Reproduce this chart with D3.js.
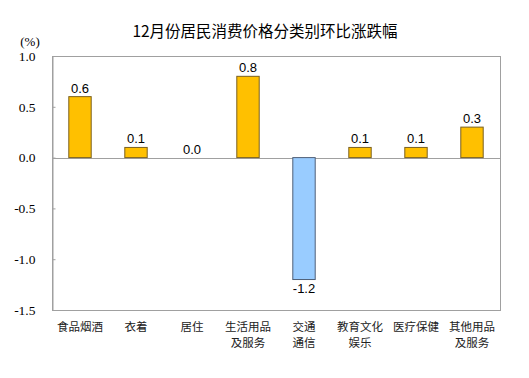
<!DOCTYPE html>
<html>
<head>
<meta charset="utf-8">
<script src="https://cdn.jsdelivr.net/npm/d3@7"></script>
<style>
  body { margin: 0; background: #fff; }
  svg { display: block; }
</style>
</head>
<body>
<script>
// 12月份居民消费价格分类别环比涨跌幅
var categories = [["食品烟酒"], ["衣着"], ["居住"], ["生活用品", "及服务"], ["交通", "通信"], ["教育文化", "娱乐"], ["医疗保健"], ["其他用品", "及服务"]];
var values = [0.6, 0.1, 0.0, 0.8, -1.2, 0.1, 0.1, 0.3];
var yTicks = [1.0, 0.5, 0.0, -0.5, -1.0, -1.5];

var width = 529, height = 378;
var plot = {left: 52, right: 500, top: 56, bottom: 310};

var svg = d3.select("body").append("svg").attr("width", width).attr("height", height);

var x = d3.scaleBand()
    .domain(d3.range(categories.length))
    .range([plot.left, plot.right])
    .paddingInner(0.6)
    .paddingOuter(0.3);

var y = d3.scaleLinear()
    .domain([-1.5, 1.0])
    .range([plot.bottom, plot.top]);

var fmt = function(d){ return d3.format(".1f")(d).replace("−", "-"); };

// title
svg.append("text")
    .attr("x", 265).attr("y", 37)
    .attr("text-anchor", "middle")
    .attr("font-family", "'Noto Sans CJK SC', sans-serif")
    .attr("font-size", 15.5)
    .attr("fill", "#000")
    .text("12月份居民消费价格分类别环比涨跌幅");

svg.append("text")
    .attr("x", 30).attr("y", 46)
    .attr("text-anchor", "middle")
    .attr("font-family", "'Liberation Serif', serif")
    .attr("font-size", 13)
    .text("(%)");

// plot box
svg.append("rect")
    .attr("x", plot.left + 0.5).attr("y", plot.top + 0.5)
    .attr("width", plot.right - plot.left).attr("height", plot.bottom - plot.top)
    .attr("fill", "none").attr("stroke", "#a0a0a0");

// y axis, ticks point inside
var yAxis = d3.axisLeft(y).tickValues(yTicks).tickSize(-3).tickPadding(17).tickFormat(fmt);

var gy = svg.append("g")
    .attr("transform", "translate(" + (plot.left + 0.5) + ",0)")
    .call(yAxis);
gy.select(".domain").attr("stroke", "#a0a0a0");
gy.selectAll(".tick line").attr("stroke", "#a0a0a0");
gy.selectAll(".tick text")
    .attr("font-family", "'Liberation Serif', serif")
    .attr("font-size", 13.5)
    .attr("fill", "#000");

// zero line
svg.append("line")
    .attr("x1", plot.left).attr("x2", plot.right)
    .attr("y1", Math.round(y(0)) + 0.5).attr("y2", Math.round(y(0)) + 0.5)
    .attr("stroke", "#a0a0a0");

// bars
svg.selectAll("rect.bar")
    .data(values)
    .enter().append("rect")
    .attr("class", "bar")
    .attr("x", function(d, i){ return x(i); })
    .attr("width", x.bandwidth())
    .attr("y", function(d){ return y(Math.max(0, d)); })
    .attr("height", function(d){ return Math.abs(y(d) - y(0)); })
    .attr("fill", function(d){ return d < 0 ? "#99ccff" : "#ffc000"; })
    .attr("stroke", function(d){ return d < 0 ? "#4f5f78" : "#7a6020"; })
    .attr("stroke-width", 1);

// value labels
svg.selectAll("text.val")
    .data(values)
    .enter().append("text")
    .attr("class", "val")
    .attr("x", function(d, i){ return x(i) + x.bandwidth() / 2; })
    .attr("y", function(d){ return d < 0 ? y(d) + 13 : y(d) - 4; })
    .attr("text-anchor", "middle")
    .attr("font-family", "'Liberation Sans', Arial, sans-serif")
    .attr("font-size", 13)
    .attr("fill", "#000")
    .text(fmt);

// category labels, one text per line
var lines = [];
categories.forEach(function(c, i){
  c.forEach(function(s, j){ lines.push({s: s, i: i, j: j}); });
});

svg.selectAll("text.cat")
    .data(lines)
    .enter().append("text")
    .attr("class", "cat")
    .attr("x", function(d){ return x(d.i) + x.bandwidth() / 2; })
    .attr("y", function(d){ return 330.5 + d.j * 16.8; })
    .attr("text-anchor", "middle")
    .attr("font-family", "'Noto Sans CJK SC', sans-serif")
    .attr("font-size", 11.5)
    .attr("fill", "#222")
    .text(function(d){ return d.s; });
</script>
</body>
</html>
